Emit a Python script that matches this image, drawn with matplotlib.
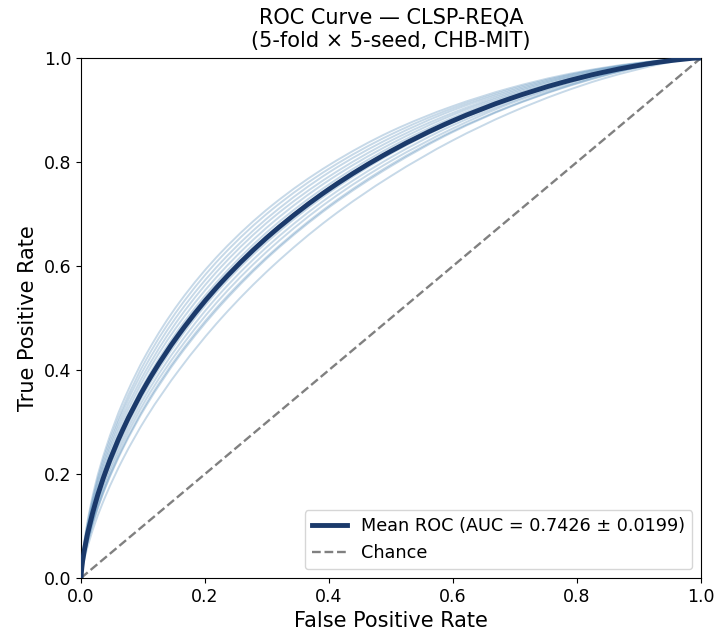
import numpy as np
import matplotlib
matplotlib.use("Agg")
import matplotlib.pyplot as plt
from matplotlib.path import Path
from matplotlib.patches import PathPatch
from matplotlib.lines import Line2D

# Shared false-positive-rate grid
fpr = [0.0, 0.0013, 0.0062, 0.0228, 0.0401, 0.0668, 0.1056, 0.1587, 0.2266, 0.3085,
       0.4013, 0.5, 0.5987, 0.6915, 0.7734, 0.8413, 0.8944, 0.9332, 0.9772, 0.9938, 1.0]

# Individual run ROC curves (TPR at the fpr grid)
run_01 = [0.0, 0.027, 0.077, 0.178, 0.250, 0.336, 0.431, 0.530, 0.627, 0.717, 0.795, 0.859, 0.907, 0.942, 0.966, 0.981, 0.990, 0.995, 0.999, 1.000, 1.0]
run_02 = [0.0, 0.026, 0.074, 0.171, 0.242, 0.326, 0.421, 0.520, 0.618, 0.709, 0.788, 0.853, 0.903, 0.939, 0.964, 0.980, 0.989, 0.995, 0.999, 1.000, 1.0]
run_03 = [0.0, 0.024, 0.070, 0.165, 0.234, 0.318, 0.411, 0.510, 0.608, 0.700, 0.781, 0.847, 0.899, 0.936, 0.962, 0.979, 0.989, 0.994, 0.999, 1.000, 1.0]
run_04 = [0.0, 0.023, 0.067, 0.159, 0.227, 0.309, 0.401, 0.500, 0.599, 0.692, 0.773, 0.841, 0.894, 0.933, 0.960, 0.977, 0.988, 0.994, 0.999, 1.000, 1.0]
run_05 = [0.0, 0.022, 0.064, 0.153, 0.219, 0.300, 0.392, 0.490, 0.589, 0.683, 0.766, 0.835, 0.890, 0.930, 0.958, 0.976, 0.987, 0.993, 0.999, 1.000, 1.0]
run_06 = [0.0, 0.020, 0.061, 0.147, 0.212, 0.291, 0.382, 0.480, 0.579, 0.674, 0.758, 0.829, 0.885, 0.927, 0.955, 0.974, 0.986, 0.993, 0.998, 1.000, 1.0]
run_07 = [0.0, 0.018, 0.055, 0.136, 0.198, 0.274, 0.363, 0.460, 0.560, 0.655, 0.742, 0.816, 0.875, 0.919, 0.951, 0.971, 0.984, 0.992, 0.998, 1.000, 1.0]
run_08 = [0.0, 0.017, 0.052, 0.130, 0.191, 0.266, 0.354, 0.450, 0.550, 0.646, 0.734, 0.809, 0.870, 0.915, 0.948, 0.970, 0.983, 0.991, 0.998, 1.000, 1.0]
run_09 = [0.0, 0.016, 0.050, 0.125, 0.184, 0.258, 0.345, 0.440, 0.540, 0.637, 0.726, 0.802, 0.864, 0.912, 0.945, 0.968, 0.982, 0.991, 0.998, 1.000, 1.0]
run_10 = [0.0, 0.015, 0.047, 0.120, 0.178, 0.250, 0.336, 0.431, 0.530, 0.627, 0.717, 0.795, 0.859, 0.907, 0.942, 0.966, 0.981, 0.990, 0.998, 1.000, 1.0]
run_11 = [0.0, 0.015, 0.046, 0.118, 0.176, 0.247, 0.332, 0.427, 0.526, 0.624, 0.714, 0.792, 0.857, 0.906, 0.941, 0.965, 0.981, 0.990, 0.998, 1.000, 1.0]
run_12 = [0.0, 0.012, 0.040, 0.106, 0.159, 0.227, 0.309, 0.401, 0.500, 0.599, 0.692, 0.773, 0.841, 0.894, 0.933, 0.960, 0.977, 0.988, 0.997, 0.999, 1.0]

runs = [run_01, run_02, run_03, run_04, run_05, run_06,
        run_07, run_08, run_09, run_10, run_11, run_12]

mean_label = "Mean ROC (AUC = 0.7426 ± 0.0199)"
chance_label = "Chance"
title_text = "ROC Curve — CLSP-REQA\n(5-fold × 5-seed, CHB-MIT)"

RUN_COLOR = "steelblue"
MEAN_COLOR = "#1b3a6b"


def smooth_path(x, y):
    """Monotone cubic Hermite (Fritsch-Carlson) drawn as Bezier segments through the points."""
    x = np.asarray(x, float)
    y = np.asarray(y, float)
    h = np.diff(x)
    d = np.diff(y) / h
    m = np.zeros_like(y)
    m[0] = d[0]
    m[-1] = d[-1]
    for i in range(1, len(y) - 1):
        if d[i - 1] * d[i] <= 0:
            m[i] = 0.0
        else:
            w1 = 2 * h[i] + h[i - 1]
            w2 = h[i] + 2 * h[i - 1]
            m[i] = (w1 + w2) / (w1 / d[i - 1] + w2 / d[i])
    verts = [(x[0], y[0])]
    codes = [Path.MOVETO]
    for i in range(len(h)):
        verts += [(x[i] + h[i] / 3, y[i] + m[i] * h[i] / 3),
                  (x[i + 1] - h[i] / 3, y[i + 1] - m[i + 1] * h[i] / 3),
                  (x[i + 1], y[i + 1])]
        codes += [Path.CURVE4] * 3
    return Path(verts, codes)


fig = plt.figure(figsize=(7.14, 6.35), dpi=100)
ax = fig.add_axes([81 / 714, 57 / 635, 620 / 714, 520 / 635])

for tpr in runs:
    ax.add_patch(PathPatch(smooth_path(fpr, tpr), fill=False, edgecolor=RUN_COLOR,
                           alpha=0.3, lw=1.4, capstyle="round", joinstyle="round"))

mean_tpr = np.mean(np.array(runs), axis=0)
ax.add_patch(PathPatch(smooth_path(fpr, mean_tpr), fill=False, edgecolor=MEAN_COLOR,
                       lw=3.5, capstyle="butt", joinstyle="round", zorder=3))
ax.plot([0, 1], [0, 1], linestyle="--", color="gray", lw=1.7, zorder=2)

ax.set_xlim(0, 1)
ax.set_ylim(0, 1)
ax.tick_params(labelsize=12.5)
ax.set_xlabel("False Positive Rate", fontsize=15)
ax.set_ylabel("True Positive Rate", fontsize=15)
ax.set_title(title_text, fontsize=15, pad=8)

handles = [Line2D([], [], color=MEAN_COLOR, lw=3.5),
           Line2D([], [], color="gray", lw=1.7, linestyle="--")]
ax.legend(handles, [mean_label, chance_label], loc="lower right", fontsize=12.7)

fig.savefig("out.png", dpi=100)
